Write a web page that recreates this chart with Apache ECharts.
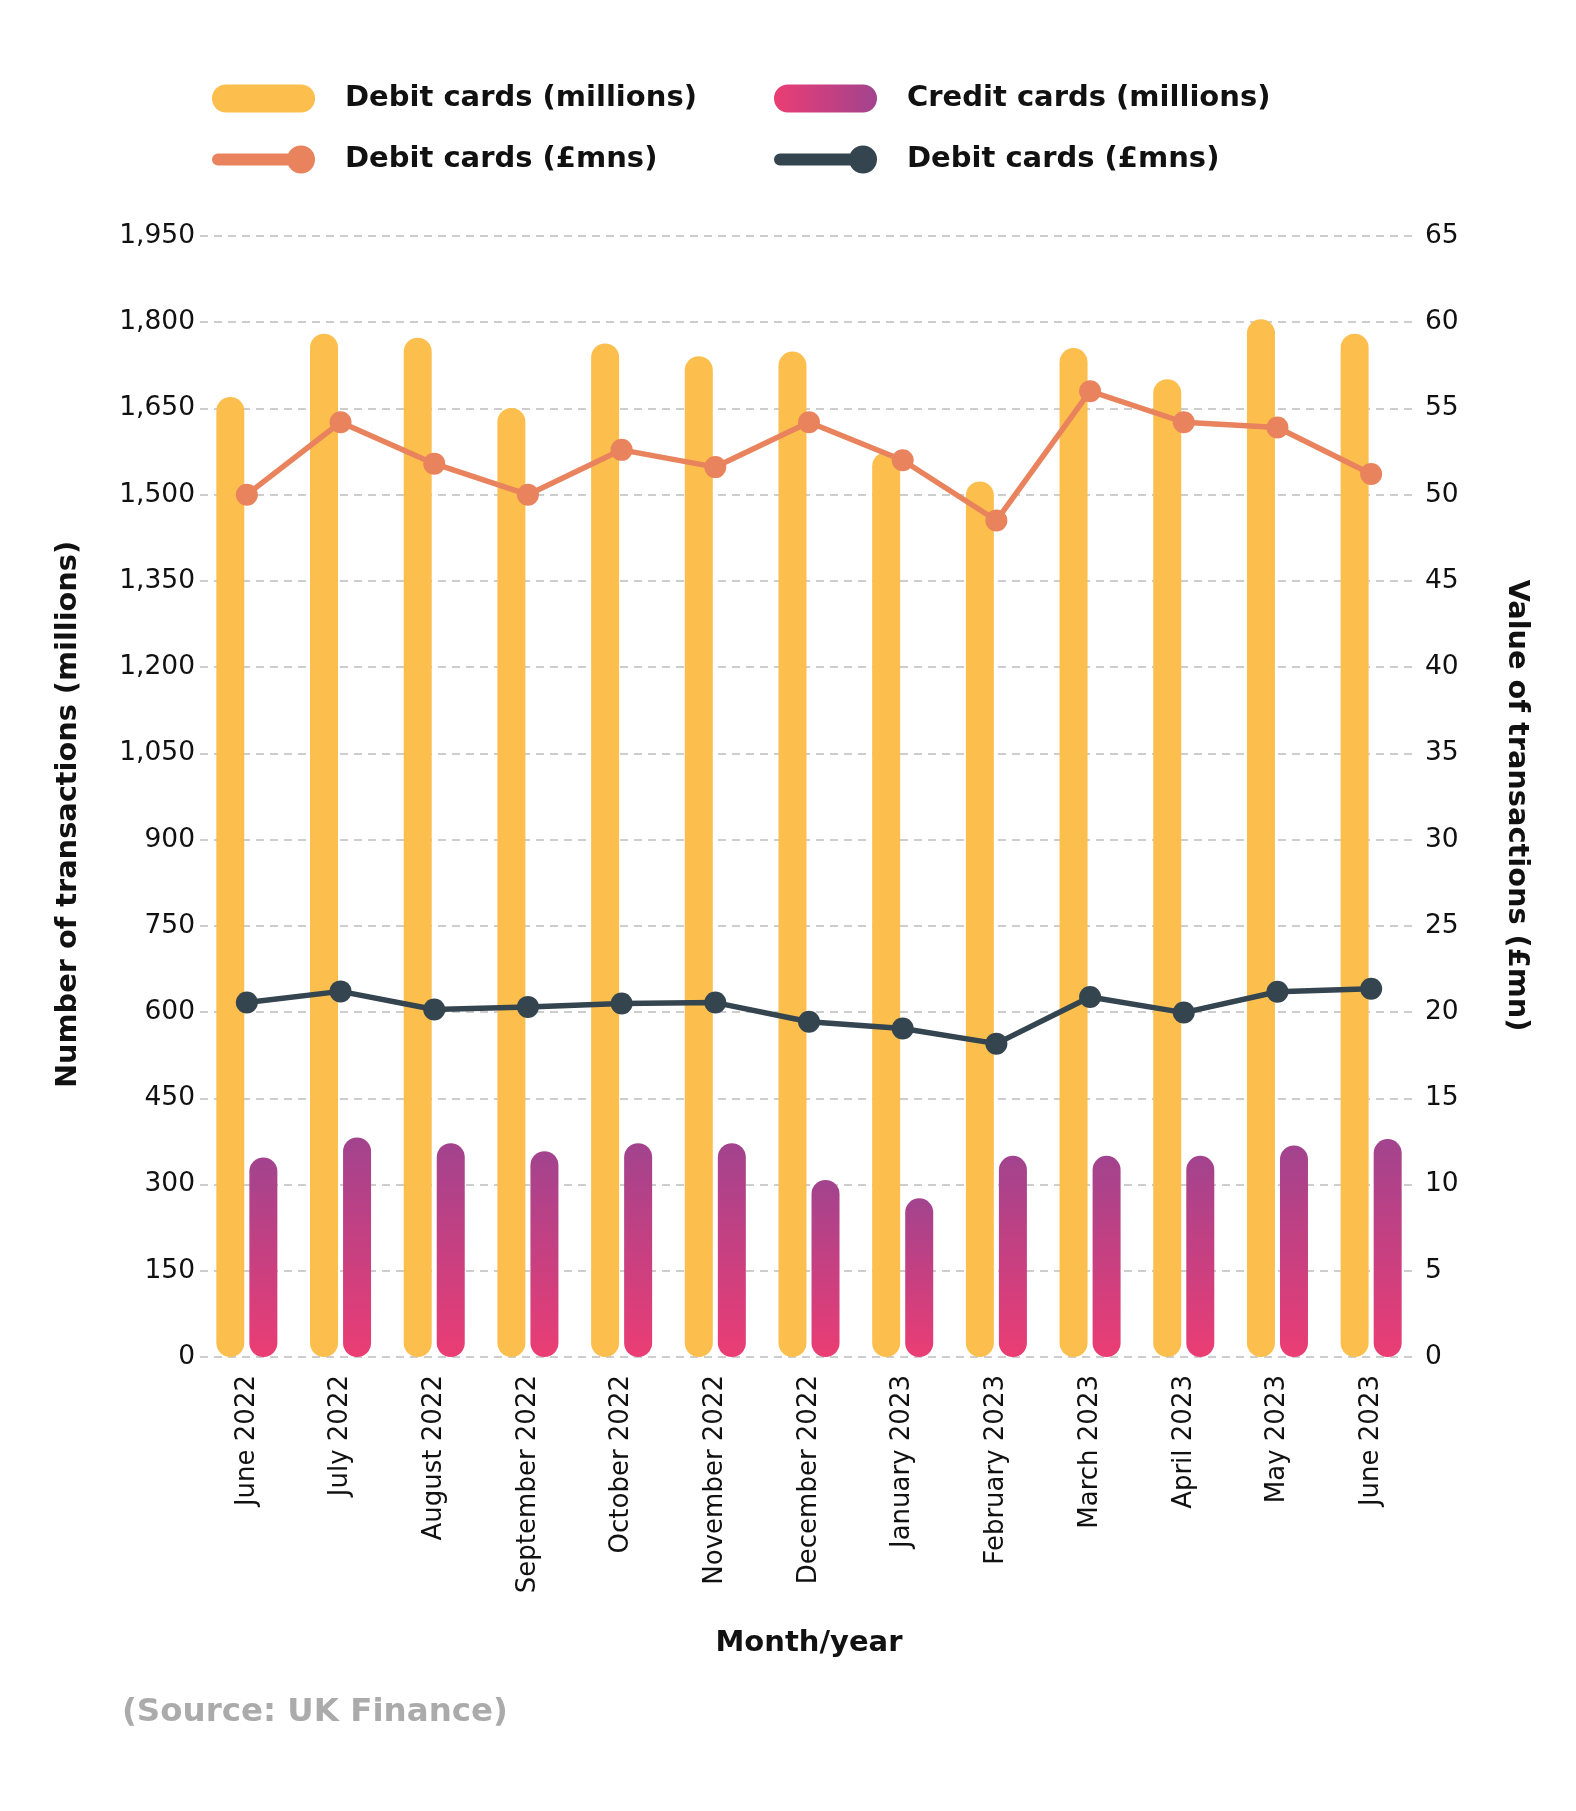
<!DOCTYPE html>
<html>
<head>
<meta charset="utf-8">
<script src="https://cdn.jsdelivr.net/npm/echarts@6/dist/echarts.min.js"></script>
<style>
  html, body { margin: 0; padding: 0; background: #ffffff; }
  #chart { width: 1576px; height: 1811px; }
</style>
</head>
<body>
<div id="chart"></div>
<script>
const categories = ['June 2022', 'July 2022', 'August 2022', 'September 2022', 'October 2022', 'November 2022', 'December 2022', 'January 2023', 'February 2023', 'March 2023', 'April 2023', 'May 2023', 'June 2023'];
const debitCount = [1670, 1780, 1773, 1651, 1763, 1741, 1749, 1574, 1523, 1755, 1701, 1805, 1780];
const creditCount = [347, 382, 372, 358, 372, 372, 308, 276, 350, 350, 350, 368, 379];
const debitValue = [50.0, 54.2, 51.8, 50.0, 52.6, 51.6, 54.2, 52.0, 48.5, 56.0, 54.2, 53.9, 51.2];
const secondValue = [20.55, 21.2, 20.15, 20.3, 20.5, 20.55, 19.44, 19.05, 18.17, 20.87, 19.97, 21.18, 21.35];

const FONT = 'DejaVu Sans';
const YELLOW = '#FCBF4E';
const PINK = '#EB3D74';
const PURPLE = '#A2438E';
const ORANGE = '#E8835D';
const DARK = '#344550';

const barIcon = 'path://M14,0 L89,0 A14,14 0 0 1 89,28 L14,28 A14,14 0 0 1 14,0 Z';
const lineIcon = 'path://M6,8 L82,8 L82,20 L6,20 A6,6 0 0 1 6,8 Z M75,14 A14,14 0 1 1 103,14 A14,14 0 1 1 75,14 Z';

function legendAt(left, top, item, formatter) {
  const l = {
    left: left, top: top, padding: 0,
    itemWidth: 103, itemHeight: 28,
    selectedMode: false,
    data: [item],
    textStyle: { fontFamily: FONT, fontWeight: 'bold', fontSize: 29, color: '#111111', padding: [0, 0, 0, 25] }
  };
  if (formatter) l.formatter = formatter;
  return l;
}

const chart = echarts.init(document.getElementById('chart'), null, { renderer: 'canvas' });
chart.setOption({
  backgroundColor: '#ffffff',
  animation: false,
  title: {
    text: '(Source: UK Finance)',
    left: 122, top: 1696, padding: 0,
    textStyle: { fontFamily: FONT, fontWeight: 'bold', fontSize: 32.5, color: '#ababab' }
  },
  legend: [
    legendAt(212, 84, { name: 'Debit cards (millions)', icon: barIcon, itemStyle: { color: YELLOW } }),
    legendAt(774, 84, { name: 'Credit cards (millions)', icon: barIcon,
      itemStyle: { color: new echarts.graphic.LinearGradient(0, 0, 1, 0, [{ offset: 0, color: PINK }, { offset: 1, color: PURPLE }]) } }),
    legendAt(212, 145, { name: 'Debit cards (£mns)', icon: lineIcon, itemStyle: { color: ORANGE } }),
    legendAt(774, 145, { name: 'Credit cards (£mns)', icon: lineIcon, itemStyle: { color: DARK } }, function () { return 'Debit cards (£mns)'; })
  ],
  grid: { left: 200, right: 158, top: 236, bottom: 454 },
  xAxis: {
    type: 'category',
    data: categories,
    name: 'Month/year',
    nameLocation: 'middle',
    nameGap: 272,
    nameTextStyle: { fontFamily: FONT, fontWeight: 'bold', fontSize: 29, color: '#111111' },
    axisLine: { show: false },
    axisTick: { show: false },
    axisLabel: { rotate: 90, interval: 0, margin: 18, fontFamily: FONT, fontSize: 26, color: '#111111' }
  },
  yAxis: [
    {
      type: 'value', min: 0, max: 1950, interval: 150,
      name: 'Number of transactions (millions)',
      nameLocation: 'middle', nameGap: 117,
      nameTextStyle: { fontFamily: FONT, fontWeight: 'bold', fontSize: 28.8, color: '#111111', padding: [0, 36, 0, 0] },
      axisLine: { show: false }, axisTick: { show: false },
      axisLabel: { margin: 5, fontFamily: FONT, fontSize: 26.5, color: '#111111',
        formatter: function (v) { return v.toLocaleString('en-US'); } },
      splitLine: { show: true, lineStyle: { color: '#bdbdbd', width: 1.5, type: [8, 6] } }
    },
    {
      type: 'value', min: 0, max: 65, interval: 5,
      name: 'Value of transactions (£mn)',
      nameLocation: 'middle', nameGap: 84, nameRotate: -90,
      nameTextStyle: { fontFamily: FONT, fontWeight: 'bold', fontSize: 28.8, color: '#111111', padding: [0, 0, 0, 18] },
      axisLine: { show: false }, axisTick: { show: false },
      axisLabel: { margin: 7, fontFamily: FONT, fontSize: 26.5, color: '#111111' },
      splitLine: { show: false }
    }
  ],
  series: [
    {
      name: 'Debit cards (millions)', type: 'bar', data: debitCount,
      barWidth: 28, barGap: '18%',
      itemStyle: { color: YELLOW, borderRadius: 14 }
    },
    {
      name: 'Credit cards (millions)', type: 'bar', data: creditCount,
      barWidth: 28, barGap: '18%',
      itemStyle: {
        borderRadius: 14,
        color: new echarts.graphic.LinearGradient(0, 0, 0, 1, [{ offset: 0, color: PURPLE }, { offset: 1, color: PINK }])
      }
    },
    {
      name: 'Debit cards (£mns)', type: 'line', yAxisIndex: 1, data: debitValue,
      symbol: 'circle', symbolSize: 22,
      lineStyle: { color: ORANGE, width: 5.5 },
      itemStyle: { color: ORANGE }
    },
    {
      name: 'Credit cards (£mns)', type: 'line', yAxisIndex: 1, data: secondValue,
      symbol: 'circle', symbolSize: 22,
      lineStyle: { color: DARK, width: 5.5 },
      itemStyle: { color: DARK }
    }
  ]
});
</script>
</body>
</html>
